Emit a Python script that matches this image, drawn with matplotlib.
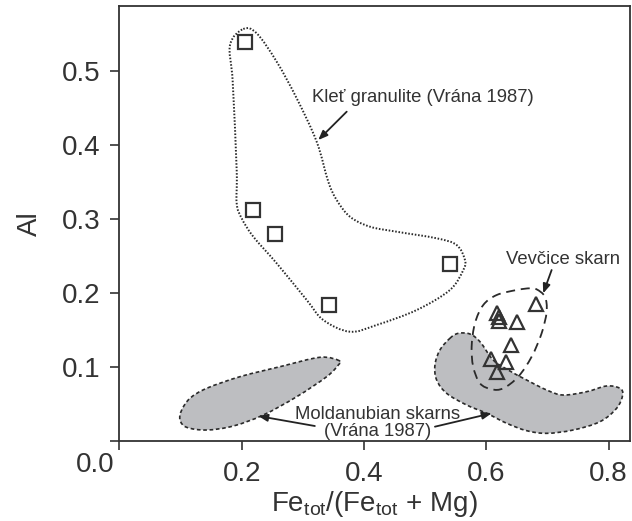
import numpy as np
import matplotlib

matplotlib.use("Agg")
import matplotlib.pyplot as plt
from matplotlib.path import Path
from matplotlib.patches import PathPatch
from matplotlib.transforms import ScaledTranslation

plt.rcParams["font.family"] = ["Liberation Sans", "DejaVu Sans"]
plt.rcParams["mathtext.fontset"] = "custom"
plt.rcParams["mathtext.rm"] = "Liberation Sans"
plt.rcParams["mathtext.it"] = "Liberation Sans:italic"

INK = "#333333"
FILL = "#bdbec1"

# Kleť granulite garnets (open squares)
granulite_fe = [0.205, 0.218, 0.254, 0.541, 0.343]
granulite_al = [0.539, 0.312, 0.279, 0.238, 0.183]

# Vevčice skarn garnets (open triangles)
vevcice_fe = [0.681, 0.618, 0.621, 0.621, 0.650, 0.640, 0.608, 0.632, 0.618]
vevcice_al = [0.185, 0.172, 0.167, 0.161, 0.160, 0.129, 0.110, 0.106, 0.092]

# field outlines, (Fe/(Fe+Mg), Al) pairs
granulite_field = [
    (0.2027, 0.5564), (0.2246, 0.5506), (0.2573, 0.5122), (0.2900, 0.4627),
    (0.3227, 0.4040), (0.3417, 0.3499), (0.3554, 0.3252), (0.3771, 0.3026),
    (0.4098, 0.2891), (0.4535, 0.2823), (0.5189, 0.2734), (0.5516, 0.2643),
    (0.5652, 0.2440), (0.5624, 0.2305), (0.5406, 0.2035), (0.4862, 0.1764),
    (0.4208, 0.1562), (0.3771, 0.1471), (0.3335, 0.1629), (0.3064, 0.1900),
    (0.2573, 0.2396), (0.2191, 0.2756), (0.2001, 0.3004), (0.1919, 0.3207),
    (0.1919, 0.3657), (0.1854, 0.4851), (0.1810, 0.5348),
]
skarn_field_left = [
    (0.3597, 0.1079), (0.3281, 0.1125), (0.2627, 0.0998), (0.1973, 0.0863),
    (0.1429, 0.0706), (0.1156, 0.0571), (0.1020, 0.0412), (0.0993, 0.0277),
    (0.1102, 0.0178), (0.1429, 0.0142), (0.1864, 0.0196), (0.2354, 0.0345),
    (0.2900, 0.0592), (0.3391, 0.0863), (0.3581, 0.1021),
]
skarn_field_right = [
    (0.5406, 0.1382), (0.5542, 0.1449), (0.5733, 0.1440), (0.5897, 0.1336),
    (0.6114, 0.1088), (0.6359, 0.0953), (0.6660, 0.0818), (0.6987, 0.0683),
    (0.7258, 0.0615), (0.7641, 0.0660), (0.7968, 0.0737), (0.8185, 0.0706),
    (0.8230, 0.0615), (0.8131, 0.0435), (0.7858, 0.0254), (0.7422, 0.0142),
    (0.6987, 0.0097), (0.6660, 0.0133), (0.6333, 0.0233), (0.6006, 0.0368),
    (0.5679, 0.0480), (0.5352, 0.0638), (0.5189, 0.0818), (0.5161, 0.1021),
    (0.5243, 0.1224),
]
vevcice_field = [
    (0.6824, 0.2044), (0.6959, 0.1944), (0.6987, 0.1742), (0.6905, 0.1449),
    (0.6742, 0.1133), (0.6523, 0.0863), (0.6278, 0.0706), (0.6088, 0.0692),
    (0.5897, 0.0773), (0.5787, 0.0998), (0.5761, 0.1268), (0.5815, 0.1585),
    (0.5951, 0.1832), (0.6170, 0.1967), (0.6497, 0.2035), (0.6714, 0.2058),
]

x_ticks = [0.0, 0.2, 0.4, 0.6, 0.8]
x_tick_labels = ["", "0.2", "0.4", "0.6", "0.8"]
y_ticks = [0.0, 0.1, 0.2, 0.3, 0.4, 0.5]
y_tick_labels = ["0.0", "0.1", "0.2", "0.3", "0.4", "0.5"]


def smooth_closed_path(points):
    """Closed Catmull-Rom outline expressed as cubic Bezier segments."""
    pts = np.asarray(points, dtype=float)
    n = len(pts)
    verts = [pts[0]]
    codes = [Path.MOVETO]
    for i in range(n):
        p0, p1, p2, p3 = pts[i - 1], pts[i], pts[(i + 1) % n], pts[(i + 2) % n]
        verts += [p1 + (p2 - p0) / 6.0, p2 - (p3 - p1) / 6.0, p2]
        codes += [Path.CURVE4] * 3
    return Path(verts, codes)


fig = plt.figure(figsize=(6.32, 5.21), dpi=100)
ax = fig.add_axes([0.1888, 0.1545, 0.808, 0.834])

for field in (skarn_field_left, skarn_field_right):
    ax.add_patch(PathPatch(smooth_closed_path(field), facecolor=FILL, edgecolor="#2a2a2a",
                           lw=1.2, linestyle=(0, (2.2, 1.6)), zorder=1))
ax.add_patch(PathPatch(smooth_closed_path(granulite_field), facecolor="none", edgecolor="#2a2a2a",
                       lw=1.4, linestyle=(0, (0.8, 0.9)), zorder=2))
ax.add_patch(PathPatch(smooth_closed_path(vevcice_field), facecolor="none", edgecolor="#2a2a2a",
                       lw=1.3, linestyle=(0, (5.0, 3.2)), zorder=2))

ax.plot(granulite_fe, granulite_al, ls="none", marker="s", ms=10, mfc="white",
        mec=INK, mew=1.6, zorder=4)
ax.plot(vevcice_fe, vevcice_al, ls="none", marker="^", ms=10.5, mfc="none",
        mec=INK, mew=1.6, zorder=4)

arrow = dict(arrowstyle="-|>,head_length=0.55,head_width=0.22", color="#222222", lw=1.3,
             shrinkA=0, shrinkB=0)
txt = dict(fontsize=13.3, color=INK, ha="center", va="center")

ax.text(0.4965, 0.4644, "Kleť granulite (Vrána 1987)", **txt)
ax.annotate("", xy=(0.3253, 0.4063), xytext=(0.3718, 0.4446), arrowprops=arrow)

ax.text(0.7259, 0.2450, "Vevčice skarn", **txt)
ax.annotate("", xy=(0.6931, 0.1990), xytext=(0.7069, 0.2305), arrowprops=arrow)

ax.text(0.4218, 0.0236, "Moldanubian skarns\n(Vrána 1987)", linespacing=1.0, zorder=5, **txt)
ax.annotate("", xy=(0.2272, 0.0331), xytext=(0.3197, 0.0196), arrowprops=arrow)
ax.annotate("", xy=(0.6088, 0.0368), xytext=(0.5161, 0.0187), arrowprops=arrow)

ax.set_xlim(0.0, 0.835)
ax.set_ylim(0.0, 0.5875)
ax.set_xticks(x_ticks)
ax.set_xticklabels(x_tick_labels)
ax.set_yticks(y_ticks)
ax.set_yticklabels(y_tick_labels)
ax.tick_params(direction="out", length=6.5, width=1.2, color=INK, labelcolor=INK,
               labelsize=20)
ax.tick_params(axis="x", pad=8.5)
ax.tick_params(axis="y", pad=7)
for spine in ax.spines.values():
    spine.set_color(INK)
    spine.set_linewidth(1.3)

# the zero label sits under the corner rather than beside the tick
zero_label = ax.get_yticklabels()[0]
zero_label.set_transform(zero_label.get_transform()
                         + ScaledTranslation(14 / 100, -21 / 100, fig.dpi_scale_trans))

ax.set_xlabel(r"Fe$_{\mathrm{tot}}$/(Fe$_{\mathrm{tot}}$ + Mg)", fontsize=20, color=INK, labelpad=1)
ax.set_ylabel("Al", fontsize=20, color=INK, labelpad=14)

fig.savefig("out.png", dpi=100)
